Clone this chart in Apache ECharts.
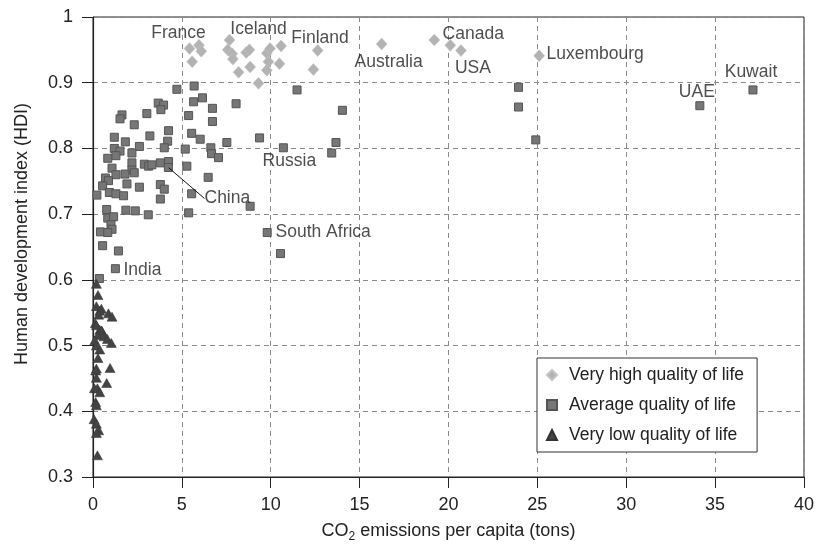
<!DOCTYPE html>
<html>
<head>
<meta charset="utf-8">
<script src="https://cdn.jsdelivr.net/npm/echarts@6/dist/echarts.min.js"></script>
<style>html,body{margin:0;padding:0;background:#fff}#c{width:817px;height:548px}</style>
</head>
<body>
<div id="c"></div>
<script>
// ---- data (CO2 tons per capita, HDI) ----
const seriesNames = ['Very high quality of life', 'Average quality of life', 'Very low quality of life'];
const veryHigh = [[5.43,0.952],[5.96,0.957],[6.09,0.948],[5.58,0.932],[7.68,0.965],[7.58,0.950],[7.83,0.944],[7.87,0.936],[8.19,0.916],[8.62,0.946],[8.80,0.950],[8.84,0.924],[9.31,0.899],[9.78,0.945],[9.96,0.952],[9.87,0.932],[9.78,0.919],[10.49,0.929],[10.58,0.956],[12.64,0.949],[12.40,0.920],[16.24,0.959],[19.20,0.965],[20.10,0.957],[20.70,0.949],[25.10,0.941]];
const average = [[4.72,0.890],[5.69,0.895],[3.67,0.869],[3.97,0.866],[3.82,0.859],[5.66,0.871],[6.16,0.877],[6.72,0.861],[8.05,0.868],[11.48,0.889],[14.03,0.858],[1.63,0.851],[1.52,0.845],[3.03,0.853],[2.32,0.836],[5.38,0.850],[6.72,0.841],[1.20,0.817],[1.82,0.810],[3.20,0.819],[4.25,0.827],[4.20,0.811],[4.01,0.801],[2.61,0.803],[5.55,0.823],[6.03,0.814],[7.53,0.809],[9.37,0.816],[5.19,0.799],[6.63,0.801],[6.67,0.792],[7.06,0.786],[10.71,0.801],[13.67,0.809],[13.43,0.793],[23.94,0.893],[23.94,0.863],[24.91,0.813],[34.14,0.865],[37.13,0.889],
[1.20,0.800],[1.52,0.796],[2.19,0.793],[0.83,0.785],[1.29,0.789],[2.19,0.778],[2.89,0.776],[3.13,0.773],[3.31,0.775],[3.79,0.778],[4.25,0.780],[4.24,0.771],[5.28,0.773],[1.07,0.770],[2.19,0.767],[1.80,0.761],[2.32,0.763],[1.29,0.760],[0.70,0.755],[0.87,0.751],[0.54,0.743],[1.91,0.746],[3.79,0.745],[4.01,0.738],[6.48,0.756],[2.61,0.741],[0.22,0.729],[0.92,0.733],[1.29,0.731],[1.72,0.728],[3.79,0.723],[5.55,0.731],
[0.77,0.707],[1.85,0.706],[2.38,0.705],[3.11,0.699],[5.38,0.702],[8.84,0.712],[0.83,0.694],[1.16,0.696],[1.01,0.684],[1.07,0.677],[0.42,0.673],[0.83,0.672],[0.54,0.652],[1.43,0.644],[1.26,0.617],[0.36,0.602],[9.80,0.672],[10.55,0.640]];
const veryLow = [[0.19,0.594],[0.28,0.577],[0.19,0.560],[0.47,0.556],[0.38,0.553],[0.32,0.547],[0.87,0.549],[1.07,0.544],[0.13,0.534],[0.19,0.531],[0.38,0.524],[0.51,0.522],[0.47,0.523],[0.28,0.516],[0.62,0.514],[0.81,0.510],[1.03,0.504],[0.10,0.508],[0.19,0.500],[0.38,0.494],[0.28,0.481],[0.96,0.466],[0.19,0.465],[0.15,0.462],[0.19,0.451],[0.77,0.443],[0.08,0.435],[0.25,0.435],[0.38,0.429],[0.15,0.414],[0.19,0.409],[0.06,0.388],[0.19,0.381],[0.32,0.371],[0.19,0.367],[0.25,0.333]];
const labelNames = ['France','Iceland','Finland','Australia','Canada','USA','Luxembourg','Kuwait','UAE','Russia','China','South Africa','India'];
const labelPoints = [[5.43,0.952],[7.68,0.965],[10.58,0.956],[16.24,0.959],[19.20,0.965],[20.70,0.949],[25.10,0.941],[37.13,0.889],[34.14,0.865],[10.71,0.801],[4.24,0.771],[9.80,0.672],[1.26,0.617]];
const xTicks = [0,5,10,15,20,25,30,35,40];
const yTicks = [0.3,0.4,0.5,0.6,0.7,0.8,0.9,1];

// ---- label placement (pixels, style only) ----
const labelOffsets = [[-11,-15],[29,-11],[39,-8],[7,18],[39,-6],[12,18],[56,-2],[-2,-18],[-3,-14],[6,13],[59,31],[56,0],[27,1]];
const leaderFor = ['China'];

const FONT = "'Liberation Sans', Arial, Helvetica, sans-serif";
const chart = echarts.init(document.getElementById('c'), null, {renderer:'canvas'});
const dashed = {color:'#8a8a8a', type:[5,4], width:1};

chart.setOption({
  animation:false,
  backgroundColor:'#fff',
  textStyle:{fontFamily:FONT},
  grid:{left:93, right:13, top:17, bottom:71, show:true, borderColor:'#222', borderWidth:1, backgroundColor:'transparent'},
  legend:{
    orient:'vertical', left:537, top:358,
    backgroundColor:'#fff', borderColor:'#333', borderWidth:1,
    padding:[8,13,8,9], itemGap:12, itemWidth:10, itemHeight:10,
    textStyle:{fontFamily:FONT, fontSize:17.5, color:'#222', padding:[0,0,0,7]},
    data:[{name:seriesNames[0], icon:'diamond'},{name:seriesNames[1], icon:'rect'},{name:seriesNames[2], icon:'triangle'}]
  },
  xAxis:{
    type:'value', min:xTicks[0], max:xTicks[xTicks.length-1], interval:5,
    name:'CO{sub|2} emissions per capita (tons)', nameLocation:'middle', nameGap:42,
    nameTextStyle:{fontFamily:FONT, fontSize:18, color:'#222', rich:{sub:{fontFamily:FONT, fontSize:12, color:'#222', padding:[12,0,0,0]}}},
    axisLine:{lineStyle:{color:'#222', width:1.2}},
    axisTick:{show:true, inside:false, length:11, lineStyle:{color:'#222'}},
    axisLabel:{fontFamily:FONT, fontSize:18, color:'#222', margin:19},
    splitLine:{show:true, lineStyle:dashed}
  },
  yAxis:{
    type:'value', min:yTicks[0], max:yTicks[yTicks.length-1], interval:0.1,
    name:'Human development index (HDI)', nameLocation:'middle', nameGap:62,
    nameTextStyle:{fontFamily:FONT, fontSize:18, color:'#222', padding:[0,0,0,26]},
    axisLine:{show:true, lineStyle:{color:'#222', width:1.2}},
    axisTick:{show:true, inside:false, length:11, lineStyle:{color:'#222'}},
    axisLabel:{fontFamily:FONT, fontSize:18, color:'#222', margin:20,
      formatter:v => Math.abs(v-1)<1e-9 ? '1' : v.toFixed(1)},
    splitLine:{show:true, lineStyle:dashed}
  },
  series:[
    {name:seriesNames[0], type:'scatter', data:veryHigh, symbol:'diamond', symbolSize:[11,12],
      itemStyle:{color:'#b3b3b3', borderColor:'#c4c4c4', borderWidth:0.5, opacity:1}, z:3},
    {name:seriesNames[1], type:'scatter', data:average, symbol:'rect', symbolSize:8,
      itemStyle:{color:'#767676', borderColor:'#555', borderWidth:1, opacity:1}, z:4},
    {name:seriesNames[2], type:'scatter', data:veryLow, symbol:'triangle', symbolSize:[10,9],
      itemStyle:{color:'#444', borderColor:'#333', borderWidth:0.5, opacity:1}, z:5},
    {name:'labels', type:'scatter', silent:true, symbolSize:1, z:6,
      itemStyle:{color:'rgba(0,0,0,0)'},
      data:labelPoints.map((p,i)=>({value:p, name:labelNames[i],
        labelLine:{show:leaderFor.includes(labelNames[i]), lineStyle:{color:'#111', width:1}}})),
      label:{show:true, position:'inside', formatter:p=>p.name, fontFamily:FONT, fontSize:17.5, color:'#222', align:'center', verticalAlign:'middle'},
      labelLine:{show:false, length2:0, smooth:false},
      labelLayout:function(p){ const o = labelOffsets[p.dataIndex]; return {dx:o[0], dy:o[1]}; }
    }
  ]
});
</script>
</body>
</html>
